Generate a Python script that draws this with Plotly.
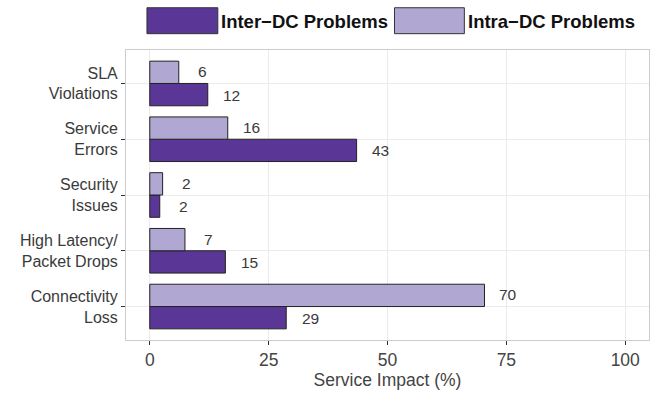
import plotly.graph_objects as go

# ---- data (bottom to top) ----
categories = ["Connectivity<br>Loss", "High Latency/<br>Packet Drops", "Security<br>Issues",
              "Service<br>Errors", "SLA<br>Violations"]
series_names = ["Inter\u2212DC Problems", "Intra\u2212DC Problems"]
inter_values = [28.7, 15.9, 2.1, 43.5, 12.2]
intra_values = [70.4, 7.4, 2.7, 16.4, 6.1]
inter_labels = ["29", "15", "2", "43", "12"]
intra_labels = ["70", "7", "2", "16", "6"]
x_ticks = [0, 25, 50, 75, 100]
x_title = "Service Impact (%)"

colors = ["#5a3796", "#b0a8d2"]
FONT = "Liberation Sans, Arial, Helvetica, sans-serif"

fig = go.Figure()
for name, vals, col in [(series_names[0], inter_values, colors[0]),
                        (series_names[1], intra_values, colors[1])]:
    fig.add_trace(go.Bar(
        x=vals, y=categories, orientation="h", name=name,
        marker=dict(color=col, line=dict(color="#222222", width=1)),
        showlegend=False,
    ))

# value labels
bar_px = 23.2
for vals, labs, shift in [(inter_values, inter_labels, -bar_px / 2),
                          (intra_values, intra_labels, bar_px / 2)]:
    for c, v, t in zip(categories, vals, labs):
        fig.add_annotation(x=v + 5, y=c, text=t, showarrow=False, yshift=shift,
                           xanchor="center", yanchor="middle",
                           font=dict(family=FONT, size=15.5, color="#3a3a3a"))

# custom legend
L, W, T, H = 126, 524, 50, 302
def px_x(p):
    return (p - L) / W
def px_y(p):
    return (T + H - p) / H

legend_boxes = [(147, 218), (395, 465)]
legend_text_x = [219, 467]
for (x0, x1), tx, name, col in zip(legend_boxes, legend_text_x, series_names, colors):
    fig.add_shape(type="rect", xref="paper", yref="paper",
                  x0=px_x(x0), x1=px_x(x1), y0=px_y(33), y1=px_y(6),
                  fillcolor=col, line=dict(color="#333333", width=1))
    fig.add_annotation(xref="paper", yref="paper", x=px_x(tx), y=px_y(20),
                       text="<b>" + name + "</b>", showarrow=False,
                       xanchor="left", yanchor="middle",
                       font=dict(family=FONT, size=18.5, color="#111111"))

fig.update_layout(
    width=660, height=395,
    margin=dict(l=L, r=660 - L - W, t=T, b=395 - T - H, pad=0),
    paper_bgcolor="white", plot_bgcolor="white",
    barmode="group", bargap=0.2, bargroupgap=0,
    font=dict(family=FONT, size=17, color="#444444"),
)
fig.update_xaxes(
    range=[-5, 105], tickvals=x_ticks, ticktext=[str(t) for t in x_ticks],
    showgrid=True, gridcolor="#ebebeb", gridwidth=1, zeroline=False,
    ticks="outside", ticklen=4, tickcolor="#333333",
    tickfont=dict(family=FONT, size=17.5, color="#444444"),
    title=dict(text=x_title, standoff=3, font=dict(family=FONT, size=17.5, color="#444444")),
    showline=True, linecolor="#cccccc", mirror=True,
)
fig.update_yaxes(
    categoryorder="array", categoryarray=categories, range=[-0.6, 4.6],
    showgrid=True, gridcolor="#ebebeb", gridwidth=1,
    ticks="outside", ticklen=4, tickcolor="#333333",
    tickfont=dict(family=FONT, size=16, color="#3a3a3a"),
    showline=True, linecolor="#cccccc", mirror=True,
)

fig.write_html("out.html")
